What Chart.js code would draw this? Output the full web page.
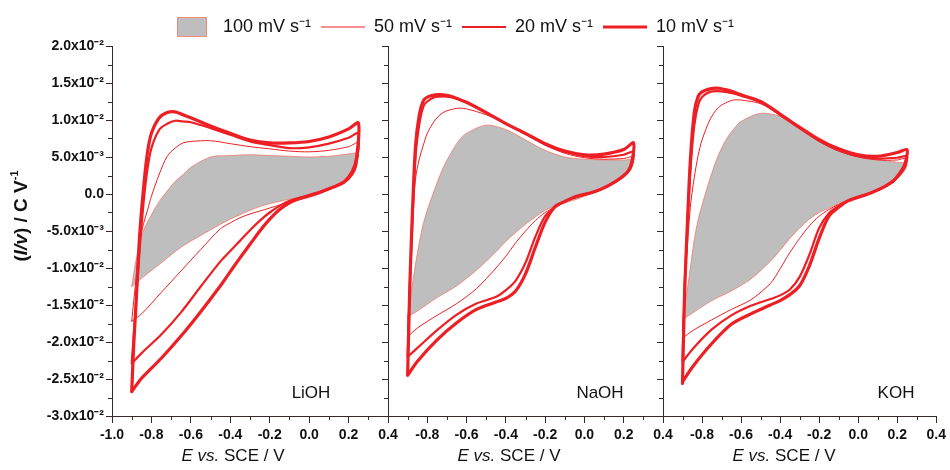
<!DOCTYPE html>
<html>
<head>
<meta charset="utf-8">
<script src="https://cdn.jsdelivr.net/npm/chart.js@4.4.1/dist/chart.umd.min.js"></script>
<style>
  html, body { margin: 0; padding: 0; background: #fff; }
  #wrap { position: relative; width: 950px; height: 470px; }
  #wrap canvas { position: absolute; left: 0; top: 0; }
</style>
</head>
<body>
<div id="wrap">
  <canvas id="lioh" width="950" height="470"></canvas>
  <canvas id="naoh" width="950" height="470"></canvas>
  <canvas id="koh" width="950" height="470"></canvas>
</div>
<script>
// potential grid (V vs SCE): forward sweep, then the return sweep
const anodicE = [-0.90, -0.89, -0.88, -0.86, -0.84, -0.82, -0.80, -0.76, -0.72, -0.68, -0.64, -0.60, -0.50, -0.40, -0.30, -0.20, -0.10, 0.00, 0.10, 0.20, 0.25];
const cathodicE = [0.24, 0.22, 0.18, 0.12, 0.05, -0.05, -0.10, -0.15, -0.20, -0.25, -0.30, -0.35, -0.40, -0.45, -0.55, -0.65, -0.75, -0.85, -0.90];

const rateLabels = ['100 mV s\u207B\u00B9', '50 mV s\u207B\u00B9', '20 mV s\u207B\u00B9', '10 mV s\u207B\u00B9'];
const xTickLabels = ['-1.0', '-0.8', '-0.6', '-0.4', '-0.2', '0.0', '0.2', '0.4'];
const yTickLabels = ['-3.0x10\u207B\u00B2', '-2.5x10\u207B\u00B2', '-2.0x10\u207B\u00B2', '-1.5x10\u207B\u00B2', '-1.0x10\u207B\u00B2',
  '-5.0x10\u207B\u00B3', '0.0', '5.0x10\u207B\u00B3', '1.0x10\u207B\u00B2', '1.5x10\u207B\u00B2', '2.0x10\u207B\u00B2'];

// (I/v) in C/V, LiOH
const liohAnodic100 = [-0.0125, -0.0108, -0.0092, -0.0068, -0.0049, -0.0038, -0.0028, -0.0010, 0.0004, 0.0017, 0.0026, 0.0036, 0.0050, 0.0052, 0.0053, 0.0052, 0.0051, 0.0050, 0.0051, 0.0054, 0.0055];
const liohCathodic100 = [0.0045, 0.0033, 0.0020, 0.0010, 0.0002, -0.0005, -0.0007, -0.0010, -0.0013, -0.0017, -0.0022, -0.0028, -0.0034, -0.0041, -0.0056, -0.0072, -0.0093, -0.0114, -0.0125];
const liohAnodic50 = [-0.0172, -0.0145, -0.0120, -0.0065, -0.0040, -0.0022, -0.0003, 0.0027, 0.0051, 0.0062, 0.0069, 0.0071, 0.0072, 0.0068, 0.0064, 0.0061, 0.0058, 0.0057, 0.0059, 0.0064, 0.0069];
const liohCathodic50 = [0.0041, 0.0030, 0.0017, 0.0009, 0.0000, -0.0008, -0.0011, -0.0015, -0.0019, -0.0023, -0.0027, -0.0032, -0.0039, -0.0047, -0.0075, -0.0104, -0.0133, -0.0162, -0.0172];
const liohAnodic20 = [-0.0229, -0.0192, -0.0155, -0.0076, -0.0012, 0.0034, 0.0062, 0.0087, 0.0095, 0.0099, 0.0098, 0.0097, 0.0089, 0.0080, 0.0071, 0.0066, 0.0062, 0.0063, 0.0068, 0.0076, 0.0082];
const liohCathodic20 = [0.0040, 0.0027, 0.0016, 0.0009, 0.0002, -0.0005, -0.0009, -0.0016, -0.0025, -0.0036, -0.0049, -0.0063, -0.0077, -0.0091, -0.0125, -0.0160, -0.0190, -0.0215, -0.0229];
const liohAnodic10 = [-0.0267, -0.0205, -0.0158, -0.0057, 0.0008, 0.0056, 0.0082, 0.0103, 0.0110, 0.0111, 0.0107, 0.0103, 0.0092, 0.0082, 0.0073, 0.0069, 0.0069, 0.0071, 0.0077, 0.0088, 0.0096];
const liohCathodic10 = [0.0048, 0.0031, 0.0017, 0.0009, 0.0002, -0.0006, -0.0012, -0.0021, -0.0034, -0.0050, -0.0068, -0.0086, -0.0105, -0.0124, -0.0159, -0.0192, -0.0222, -0.0249, -0.0267];

// NaOH
const naohAnodic100 = [-0.0168, -0.0148, -0.0130, -0.0095, -0.0065, -0.0040, -0.0022, 0.0008, 0.0035, 0.0055, 0.0072, 0.0082, 0.0093, 0.0087, 0.0073, 0.0059, 0.0050, 0.0047, 0.0046, 0.0046, 0.0046];
const naohCathodic100 = [0.0038, 0.0029, 0.0019, 0.0010, 0.0002, -0.0008, -0.0012, -0.0017, -0.0022, -0.0031, -0.0041, -0.0052, -0.0064, -0.0078, -0.0103, -0.0124, -0.0140, -0.0158, -0.0166];
const naohAnodic50 = [-0.0193, -0.0120, -0.0060, 0.0020, 0.0048, 0.0066, 0.0082, 0.0100, 0.0110, 0.0114, 0.0116, 0.0115, 0.0107, 0.0095, 0.0081, 0.0066, 0.0055, 0.0049, 0.0047, 0.0048, 0.0050];
const naohCathodic50 = [0.0036, 0.0028, 0.0019, 0.0010, 0.0002, -0.0005, -0.0010, -0.0018, -0.0025, -0.0036, -0.0050, -0.0066, -0.0084, -0.0100, -0.0128, -0.0148, -0.0164, -0.0181, -0.0193];
const naohAnodic20 = [-0.0220, -0.0130, -0.0065, 0.0050, 0.0095, 0.0118, 0.0125, 0.0131, 0.0132, 0.0131, 0.0128, 0.0124, 0.0110, 0.0095, 0.0081, 0.0067, 0.0057, 0.0051, 0.0050, 0.0053, 0.0057];
const naohCathodic20 = [0.0038, 0.0029, 0.0020, 0.0011, 0.0003, -0.0005, -0.0010, -0.0018, -0.0030, -0.0058, -0.0093, -0.0117, -0.0130, -0.0139, -0.0148, -0.0163, -0.0184, -0.0208, -0.0220];
const naohAnodic10 = [-0.0245, -0.0135, -0.0055, 0.0065, 0.0108, 0.0126, 0.0131, 0.0134, 0.0134, 0.0132, 0.0128, 0.0124, 0.0110, 0.0095, 0.0082, 0.0068, 0.0058, 0.0053, 0.0054, 0.0060, 0.0069];
const naohCathodic10 = [0.0042, 0.0030, 0.0021, 0.0011, 0.0003, -0.0004, -0.0010, -0.0017, -0.0038, -0.0072, -0.0108, -0.0131, -0.0141, -0.0146, -0.0156, -0.0174, -0.0197, -0.0226, -0.0245];

// KOH
const kohAnodic100 = [-0.0172, -0.0155, -0.0138, -0.0100, -0.0062, -0.0035, -0.0015, 0.0020, 0.0050, 0.0072, 0.0087, 0.0098, 0.0109, 0.0105, 0.0092, 0.0076, 0.0061, 0.0052, 0.0047, 0.0043, 0.0041];
const kohCathodic100 = [0.0033, 0.0026, 0.0016, 0.0007, -0.0001, -0.0008, -0.0013, -0.0019, -0.0025, -0.0034, -0.0046, -0.0060, -0.0076, -0.0091, -0.0115, -0.0131, -0.0144, -0.0161, -0.0170];
const kohAnodic50 = [-0.0195, -0.0140, -0.0090, -0.0018, 0.0022, 0.0052, 0.0073, 0.0100, 0.0116, 0.0123, 0.0127, 0.0127, 0.0122, 0.0107, 0.0089, 0.0071, 0.0058, 0.0050, 0.0046, 0.0046, 0.0048];
const kohCathodic50 = [0.0035, 0.0027, 0.0016, 0.0007, 0.0000, -0.0008, -0.0014, -0.0021, -0.0030, -0.0043, -0.0060, -0.0079, -0.0101, -0.0121, -0.0143, -0.0156, -0.0170, -0.0185, -0.0195];
const kohAnodic20 = [-0.0227, -0.0130, -0.0070, 0.0030, 0.0092, 0.0120, 0.0131, 0.0138, 0.0139, 0.0138, 0.0136, 0.0133, 0.0124, 0.0107, 0.0089, 0.0072, 0.0059, 0.0051, 0.0048, 0.0049, 0.0051];
const kohCathodic20 = [0.0037, 0.0029, 0.0017, 0.0008, 0.0000, -0.0009, -0.0016, -0.0026, -0.0046, -0.0082, -0.0112, -0.0129, -0.0137, -0.0142, -0.0151, -0.0164, -0.0183, -0.0210, -0.0227];
const kohAnodic10 = [-0.0256, -0.0140, -0.0071, 0.0045, 0.0110, 0.0132, 0.0138, 0.0142, 0.0143, 0.0141, 0.0138, 0.0134, 0.0125, 0.0108, 0.0090, 0.0073, 0.0061, 0.0053, 0.0051, 0.0056, 0.0060];
const kohCathodic10 = [0.0041, 0.0031, 0.0018, 0.0008, 0.0000, -0.0009, -0.0018, -0.0030, -0.0060, -0.0097, -0.0124, -0.0136, -0.0144, -0.0150, -0.0162, -0.0176, -0.0202, -0.0234, -0.0254];

const family = '"Liberation Sans", Arial, sans-serif';
const red = '#ed1f24';
const axisColor = '#3a2727';
const textColor = '#111';

// small swatch for the 100 mV/s legend entry
const grayBox = document.createElement('canvas');
grayBox.width = 30; grayBox.height = 20;
(function () {
  const g = grayBox.getContext('2d');
  g.fillStyle = '#bebebe';
  g.fillRect(0, 0, 30, 20);
  g.strokeStyle = '#f08a80';
  g.lineWidth = 1;
  g.strokeRect(0.5, 0.5, 29, 19);
})();

const rateStyles = [
  { borderColor: '#f07a6e', borderWidth: 0.8, backgroundColor: '#bebebe', fill: 'shape', order: 4 },
  { borderColor: red, borderWidth: 1, fill: false, order: 3 },
  { borderColor: red, borderWidth: 2.2, fill: false, order: 2 },
  { borderColor: red, borderWidth: 3.2, fill: false, order: 1 }
];

function loop(anodic, cathodic) {
  return anodicE.map((e, i) => ({ x: e, y: anodic[i] }))
    .concat(cathodicE.map((e, i) => ({ x: e, y: cathodic[i] })));
}

function drawRuns(ctx, runs, cx, cy) {
  let w = 0;
  runs.forEach(r => { ctx.font = r.font; w += ctx.measureText(r.text).width; });
  let x = cx - w / 2;
  runs.forEach(r => {
    ctx.font = r.font;
    ctx.fillText(r.text, x, cy + (r.dy || 0));
    x += ctx.measureText(r.text).width;
  });
}

// minor ticks halfway between the labelled ones
const minorTicks = {
  id: 'minorTicks',
  afterDraw(chart) {
    const { ctx } = chart;
    const xs = chart.scales.x, ys = chart.scales.y;
    ctx.save();
    ctx.strokeStyle = axisColor;
    ctx.lineWidth = 1;
    ctx.beginPath();
    for (let v = -0.9; v < 0.4; v += 0.2) {
      const px = Math.round(xs.getPixelForValue(v)) + 0.5;
      ctx.moveTo(px, xs.top);
      ctx.lineTo(px, xs.top + 4);
    }
    for (let v = -0.0275; v < 0.02; v += 0.005) {
      const py = Math.round(ys.getPixelForValue(v)) + 0.5;
      ctx.moveTo(ys.right - 4, py);
      ctx.lineTo(ys.right, py);
    }
    ctx.stroke();
    ctx.restore();
  }
};

const panelText = {
  id: 'panelText',
  afterDraw(chart, args, opts) {
    const { ctx, chartArea } = chart;
    ctx.save();
    ctx.fillStyle = textColor;
    ctx.textBaseline = 'middle';
    ctx.textAlign = 'left';
    drawRuns(ctx, [
      { text: 'E vs.', font: 'italic 17px ' + family },
      { text: ' SCE / V', font: '17px ' + family }
    ], chartArea.left + 121, 456);
    ctx.font = '17px ' + family;
    ctx.textAlign = 'center';
    ctx.fillText(opts.label, opts.labelX, 393);
    if (opts.yTitle) {
      ctx.textAlign = 'left';
      ctx.translate(22, 216);
      ctx.rotate(-Math.PI / 2);
      drawRuns(ctx, [
        { text: '(', font: 'bold 19px ' + family },
        { text: 'I/v', font: 'italic bold 19px ' + family },
        { text: ') / C V', font: 'bold 19px ' + family },
        { text: '-1', font: 'bold 11px ' + family, dy: -7 }
      ], 0, 0);
    }
    ctx.restore();
  }
};

function makePanel(id, cfg, loops) {
  const datasets = loops.map((l, i) => Object.assign({
    label: rateLabels[i],
    data: loop(l[0], l[1]),
    pointRadius: 0,
    tension: 0.3,
    borderJoinStyle: 'round',
    borderCapStyle: 'round'
  }, rateStyles[i]));

  const tickFont = { family: family, size: 14, weight: 'bold' };

  return new Chart(document.getElementById(id), {
    type: 'line',
    data: { datasets: datasets },
    plugins: [minorTicks, panelText],
    options: {
      responsive: false,
      animation: false,
      devicePixelRatio: 1,
      events: [],
      layout: { padding: { top: cfg.padTop, right: cfg.padRight, left: 0, bottom: 0 } },
      scales: {
        x: {
          type: 'linear', position: 'bottom', min: -1.0, max: 0.4,
          afterFit: s => { s.height = 54; },
          ticks: {
            stepSize: 0.2, autoSkip: false, maxRotation: 0, padding: 4,
            color: textColor, font: tickFont,
            callback: (v, i) => (i === 0 && !cfg.first) ? '' : xTickLabels[i]
          },
          grid: { drawOnChartArea: false, tickLength: 7, tickColor: axisColor, tickWidth: 1 },
          border: { color: axisColor, width: 1 }
        },
        y: {
          type: 'linear', position: 'left', min: -0.03, max: 0.02,
          afterFit: s => { s.width = cfg.left; },
          ticks: {
            stepSize: 0.005, autoSkip: false, padding: 2,
            color: textColor, font: tickFont,
            callback: (v, i) => cfg.first ? yTickLabels[i] : ''
          },
          grid: { drawOnChartArea: false, tickLength: 6, tickColor: axisColor, tickWidth: 1 },
          border: { color: axisColor, width: 1 }
        },
        pad: {
          type: 'linear', position: 'right', display: true,
          afterFit: s => { s.width = cfg.rightGap; },
          grid: { display: false }, ticks: { display: false }, border: { display: false }
        }
      },
      plugins: {
        tooltip: { enabled: false },
        legend: {
          display: cfg.legend,
          position: 'top',
          labels: {
            usePointStyle: true,
            pointStyleWidth: 44,
            padding: 10,
            color: textColor,
            font: { family: family, size: 18 },
            generateLabels: chart => chart.data.datasets.map((ds, i) => ({
              text: ds.label,
              fillStyle: 'transparent',
              strokeStyle: ds.borderColor,
              lineWidth: i === 0 ? 1 : ds.borderWidth,
              pointStyle: i === 0 ? grayBox : 'line',
              hidden: false,
              datasetIndex: i,
              fontColor: textColor
            }))
          }
        },
        panelText: { label: cfg.label, labelX: cfg.labelX, yTitle: cfg.first }
      }
    }
  });
}

makePanel('lioh', { first: true, legend: false, left: 112, rightGap: 562, padRight: 0, padTop: 46, label: 'LiOH', labelX: 311 }, [
  [liohAnodic100, liohCathodic100], [liohAnodic50, liohCathodic50], [liohAnodic20, liohCathodic20], [liohAnodic10, liohCathodic10]
]);
makePanel('naoh', { first: false, legend: true, left: 388, rightGap: 241, padRight: 46, padTop: 8, label: 'NaOH', labelX: 600 }, [
  [naohAnodic100, naohCathodic100], [naohAnodic50, naohCathodic50], [naohAnodic20, naohCathodic20], [naohAnodic10, naohCathodic10]
]);
makePanel('koh', { first: false, legend: false, left: 663, rightGap: 10, padRight: 0, padTop: 46, label: 'KOH', labelX: 896 }, [
  [kohAnodic100, kohCathodic100], [kohAnodic50, kohCathodic50], [kohAnodic20, kohCathodic20], [kohAnodic10, kohCathodic10]
]);
</script>
</body>
</html>
